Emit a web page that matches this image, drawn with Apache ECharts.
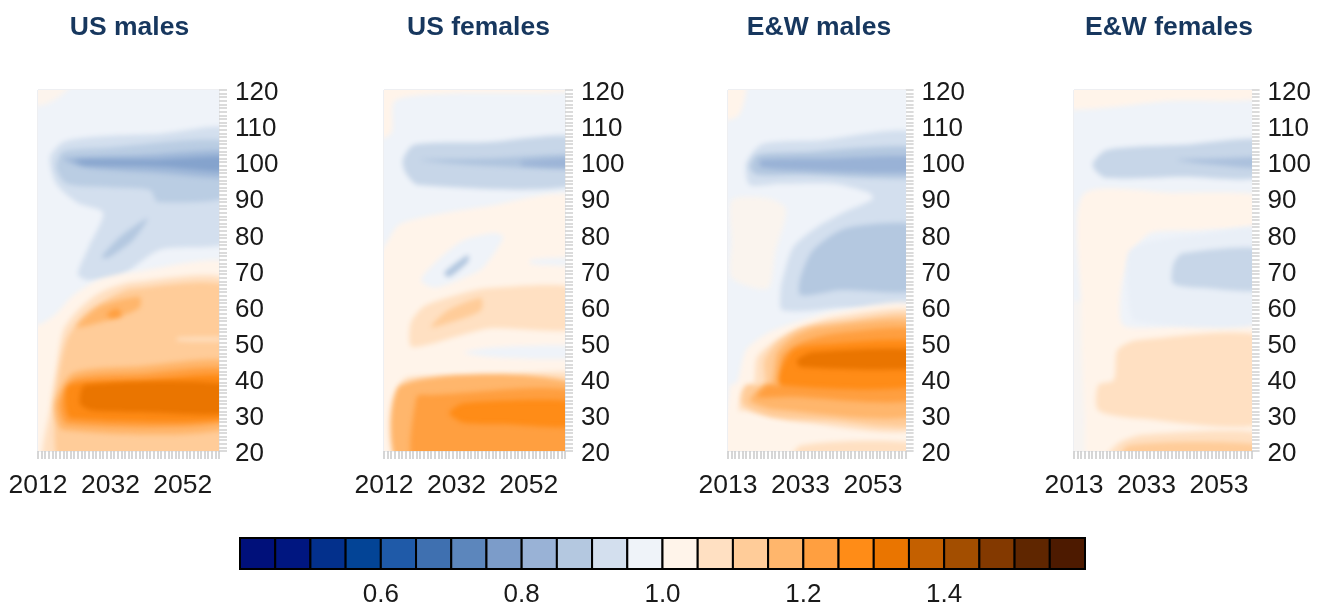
<!DOCTYPE html>
<html><head><meta charset="utf-8">
<script src="https://cdn.jsdelivr.net/npm/echarts@6/dist/echarts.min.js"></script>
<style>html,body{margin:0;padding:0;background:#fff}#c{width:1323px;height:608px}</style>
</head><body><div id="c"></div>
<script>
// Colour scale: legend break values and the colour of each bin
const legendBreaks = [0.40,0.45,0.50,0.55,0.60,0.65,0.70,0.75,0.80,0.85,0.90,0.95,1.00,1.05,1.10,1.15,1.20,1.25,1.30,1.35,1.40,1.45,1.50,1.55,1.60];
const legendColors = ['#00107a','#001680','#03308c','#034496','#1f5aa8','#3f70b0','#5c86bc','#7c9cc9','#99b2d6','#b4c8e0','#d3dfee','#eff3f9','#fff4ea','#ffe0c2','#ffcc99','#ffb66c','#ff9f40','#ff8c17','#ea7500','#c46000','#a34e00','#833900','#5f2600','#4d1a00'];
const legendTicks = [0.6,0.8,1.0,1.2,1.4];
const panelTitles = ['US males','US females','E&W males','E&W females'];
const ageTicks = [20,30,40,50,60,70,80,90,100,110,120];
const usYearLabels = [2012,2032,2052];
const ewYearLabels = [2013,2033,2053];

// Contour regions, painted in order: [ratio value, outline as [year, age] pairs]
const usMales = [
 [0.975,[[2005,130],[2070,130],[2070,10],[2005,10]]],
 [1.015,[[2008,126],[2008,116],[2014,116],[2019,119],[2024,126]]],
 [0.925,[[2015.3,101.4],[2019,105.6],[2027,107],[2045,107.8],[2066,108.6],[2066,78.5],[2045.6,75.7],[2034,68],[2025.5,67.4],[2023,69],[2026,76.5],[2030,86],[2023,88.7],[2017,94]]],
 [0.885,[[2017,98.7],[2019,103],[2030,104],[2066,105.5],[2066,91],[2045,89],[2043,92.3],[2032.7,93],[2020,94]]],
 [0.875,[[2029.6,73.7],[2034.6,79.3],[2042.3,84.5],[2038.2,78.4],[2031.3,73.5]]],
 [0.84,[[2019,101],[2040,102],[2066,103],[2066,96],[2045,97],[2025,98.5]]],
 [0.79,[[2022,100.5],[2045,100.7],[2066,101.5],[2066,97.5],[2045,98.8],[2025,99.3]]],
 [1.025,[[2008,15],[2008,55],[2012.5,55],[2017,58],[2021.6,63],[2029,67.5],[2038,69.5],[2066,71],[2066,15]]],
 [1.075,[[2014.5,15],[2015.5,33],[2017,42.4],[2019,53.5],[2023,59],[2029,63.8],[2038,66.8],[2066,66.5],[2066,15]]],
 [1.125,[[2019,15],[2016.5,30],[2017.5,40],[2020,51],[2025,58],[2031,62],[2038,65],[2066,64.5],[2066,15]]],
 [1.075,[[2050.5,51.4],[2066,51.4],[2066,50.5],[2050.5,50.5]]],
 [1.175,[[2022.7,54.3],[2029,60],[2040,62.7],[2040,59.6],[2032,56.4]]],
 [1.225,[[2031,58],[2034,59.5],[2035,57.5],[2032,56.8]]],
 [1.175,[[2019,25.8],[2016.7,33],[2021.6,41.6],[2040,43.5],[2066,44.4],[2066,26.7]]],
 [1.225,[[2020,27.5],[2018,33],[2022,40],[2040,41.5],[2066,42.4],[2066,28.6]]],
 [1.28,[[2021,29],[2019.5,33],[2020.5,38.3],[2040,39.5],[2066,40.5],[2066,29.4]]],
 [1.325,[[2023.6,33],[2025,38.3],[2066,38.3],[2066,30.8],[2040,30.8],[2027,31.2]]]
];
const usFemales = [
 [0.975,[[2005,130],[2070,130],[2070,10],[2005,10]]],
 [1.025,[[2008,126],[2008,106],[2014,108],[2015,117],[2030,119],[2066,120],[2066,126]]],
 [1.025,[[2008,15],[2008,72],[2012,76.5],[2016.7,83],[2039.6,87.6],[2066,89.5],[2066,15]]],
 [0.975,[[2022.2,67.4],[2027.7,73.7],[2034,78.4],[2042.3,80.4],[2045,79.3],[2039.6,71],[2036,68.8],[2026.3,65.2]]],
 [0.87,[[2028.6,69.3],[2035.2,74.3],[2035.2,72.4],[2030,68.2]]],
 [0.975,[[2052.5,73],[2066,73.5],[2066,71.5],[2052.5,71.8]]],
 [0.905,[[2017.2,100.6],[2020.3,104.8],[2040,105.5],[2066,106.7],[2066,93.7],[2021.4,93.7],[2018,97]]],
 [0.865,[[2022,100.6],[2040,101],[2066,102],[2066,98.4],[2039.6,99]]],
 [0.83,[[2050,100.2],[2066,101],[2066,98.6],[2050,99.2]]],
 [1.075,[[2019.4,49],[2019.4,55.5],[2023,60],[2030.5,62.7],[2039.6,65],[2066,65],[2066,54],[2041.5,54],[2033,52],[2024,49.4]]],
 [1.125,[[2025,54.3],[2029.7,59],[2038.8,62.4],[2038.8,59],[2032.4,56.3]]],
 [0.975,[[2034,47.3],[2042,48.7],[2066,49],[2066,45.7],[2042,46]]],
 [1.075,[[2016,38],[2018.6,40.5],[2040,41],[2066,41.6],[2066,36],[2016,36]]],
 [1.175,[[2016.7,15],[2016.7,38.3],[2066,38.3],[2066,15]]],
 [1.225,[[2021,15],[2021,35],[2025,35.5],[2066,36],[2066,15]]],
 [1.275,[[2030,30.5],[2034,33.3],[2066,33.5],[2066,27],[2045,27.5],[2034,27.8]]]
];
const ewMales = [
 [0.975,[[2005,130],[2070,130],[2070,10],[2005,10]]],
 [1.025,[[2008,126],[2008,112],[2016,113],[2018,126]]],
 [1.01,[[2014,89.5],[2024,90],[2029,87],[2026,75],[2024,65],[2014,68],[2014,78]]],
 [0.925,[[2018,99.8],[2022.4,105],[2037.5,106],[2066,107],[2066,61],[2044,59.6],[2028,59],[2027.5,64.6],[2028,67.4],[2031,76.5],[2037.5,82],[2044.7,86],[2053,89.8],[2052,91.5],[2042,94],[2027.3,94],[2019,93.7]]],
 [0.875,[[2033,63.2],[2033,68],[2036.5,75.7],[2045.8,81.8],[2066,82],[2066,65],[2044,64.6]]],
 [0.875,[[2019,98.7],[2021,102],[2033,102.8],[2066,104],[2066,96],[2033,96.5],[2021,96.5]]],
 [0.825,[[2022,100.6],[2040,101],[2066,101.4],[2066,97.3],[2033,97.8],[2022,98.7]]],
 [1.025,[[2013.5,15],[2013.5,38],[2015.5,39],[2018,48],[2024,52.7],[2032,55.7],[2042,58.5],[2066,59.6],[2066,15]]],
 [1.075,[[2016,31],[2017,37],[2020,38],[2021,46],[2026,50.5],[2033,54],[2042,57],[2066,58],[2066,26.7],[2033,28],[2017,31.3]]],
 [1.075,[[2030,15],[2033,21.5],[2066,22],[2066,15]]],
 [1.125,[[2017,33],[2018,38.3],[2023,38.3],[2023,45],[2026.5,50],[2033,54],[2045,56],[2066,56.8],[2066,28],[2040,28.5],[2025,29.5]]],
 [1.175,[[2019,34],[2023,38.3],[2025,38.3],[2026.5,47],[2031,51.6],[2038,54.3],[2066,55],[2066,30.5],[2026,31.5]]],
 [1.225,[[2021,35],[2024,38.3],[2027.5,38.3],[2028,46],[2033,50],[2042,52.5],[2066,53],[2066,34.7],[2030,35]]],
 [1.275,[[2027.5,38.3],[2027.5,42.4],[2031,48],[2038,49.5],[2066,50],[2066,38.3]]],
 [1.325,[[2032,45.2],[2036.5,47.4],[2066,48],[2066,43],[2033,43.3]]]
];
const ewFemales = [
 [0.975,[[2005,130],[2070,130],[2070,10],[2005,10]]],
 [1.025,[[2008,126],[2008,115],[2040,117],[2066,118],[2066,126]]],
 [1.0,[[2008,15],[2008,60],[2018,60],[2018,15]]],
 [1.025,[[2015.5,91],[2040,91.5],[2066,90.5],[2066,83],[2048,81.2],[2034,80.4],[2029,74.8],[2026,65],[2027,54.5],[2066,54],[2066,15],[2018,15],[2016,30],[2015,60]]],
 [0.965,[[2028,62],[2028,75],[2034,78],[2048,80],[2066,81],[2066,56],[2030,56]]],
 [0.905,[[2040.3,66.5],[2040.5,72],[2043,74.8],[2066,75.7],[2066,65],[2048,65.2]]],
 [0.905,[[2018.2,99.8],[2022,103.4],[2043,104.8],[2066,106],[2066,96],[2043,96],[2022,95.6],[2018.8,97.8]]],
 [0.86,[[2041.4,100.6],[2052,101],[2066,101.2],[2066,98.4],[2052.4,99.2]]],
 [1.075,[[2019.7,31.3],[2019.7,38.3],[2024,39.7],[2025,48],[2030.4,50.7],[2066,51.3],[2066,28],[2031,29]]],
 [1.075,[[2020,15],[2025,22],[2032,24.5],[2066,24.7],[2066,15]]],
 [1.125,[[2025,15],[2028,21.5],[2066,21.5],[2066,15]]]
];
const panelBands = [usMales, usFemales, ewMales, ewFemales];

const panelLayout = [
 {left:38,  width:181, titleX:129.5},
 {left:384, width:181, titleX:478.5},
 {left:728, width:177.6, titleX:819},
 {left:1074,width:177.6, titleX:1169}
];
const panelStart = [2012,2012,2013,2013];
const panelLabels = [usYearLabels,usYearLabels,ewYearLabels,ewYearLabels];

function colorOf(v){
  const t = Math.min(1,Math.max(0,(v-0.425)/(1.575-0.425)));
  return echarts.color.lerp(t, legendColors);
}
function rangeList(a,b){const r=[];for(let i=a;i<=b;i++)r.push(i);return r;}

const font = '"Liberation Sans", Arial, sans-serif';
const softOffset = 4000; // the outline is drawn off-canvas so only its blurred shadow lands on the plot
const grids=[],xAxes=[],yAxes=[],series=[],titles=[];
panelTitles.forEach((name,i)=>{
  const L=panelLayout[i];
  titles.push({text:name,left:L.titleX,top:14,padding:0,textAlign:'center',
    textStyle:{fontFamily:font,fontSize:26.5,fontWeight:'bold',color:'#17375e'}});
  grids.push({left:L.left,width:L.width,top:90,height:361,show:true,borderColor:'#dcdfe4',borderWidth:1,backgroundColor:'transparent'});
  xAxes.push({type:'value',gridIndex:i,min:panelStart[i],max:2062,position:'bottom',
    axisLine:{show:false},splitLine:{show:false},
    axisTick:{show:true,length:8,customValues:rangeList(panelStart[i],2062),lineStyle:{color:'#c9c9c9',width:1.5}},
    axisLabel:{show:true,customValues:panelLabels[i],margin:21,formatter:v=>String(v),fontFamily:font,fontSize:26.5,color:'#1a1a1a',hideOverlap:false,showMinLabel:true,showMaxLabel:true}});
  yAxes.push({type:'value',gridIndex:i,min:20,max:120,interval:10,position:'right',
    axisLine:{show:false},splitLine:{show:false},
    axisTick:{show:true,length:8,customValues:rangeList(20,120),lineStyle:{color:'#cfcfcf',width:1.5}},
    axisLabel:{show:true,customValues:ageTicks,margin:16,formatter:v=>'{a|'+v+'}',
      rich:{a:{fontFamily:font,fontSize:26,color:'#1a1a1a',padding:[6,0,0,0]}},
      hideOverlap:false,showMinLabel:true,showMaxLabel:true}});
  const bands=panelBands[i];
  series.push({type:'custom',name,xAxisIndex:i,yAxisIndex:i,clip:true,silent:true,
    encode:{x:0,y:1},
    data:bands.map(b=>[b[1][0][0],b[1][0][1],b[0]]),
    renderItem:(p,api)=>{
      const b=bands[p.dataIndex];
      const c=colorOf(b[0]);
      if(p.dataIndex===0) return {type:'polygon',shape:{points:b[1].map(q=>api.coord(q))},style:{fill:c}};
      return {type:'polygon',x:-softOffset,
        shape:{points:b[1].map(q=>api.coord(q)),smooth:0.25},
        style:{fill:c,shadowBlur:5,shadowColor:c,shadowOffsetX:softOffset}};
    }});
});
// Colour-scale legend
const li=panelTitles.length;
grids.push({left:240,width:845,top:538,height:32});
xAxes.push({type:'value',gridIndex:li,min:0.4,max:1.6,interval:0.2,
  axisLine:{show:false},axisTick:{show:false},splitLine:{show:false},
  axisLabel:{customValues:legendTicks,margin:13,fontFamily:font,fontSize:26,color:'#1a1a1a',formatter:v=>v.toFixed(1)}});
yAxes.push({type:'value',gridIndex:li,min:0,max:1,show:false});
series.push({type:'custom',name:'legend',xAxisIndex:li,yAxisIndex:li,clip:false,silent:true,
  encode:{x:0},
  data:legendColors.map((c,k)=>[legendBreaks[k],legendBreaks[k+1]]),
  renderItem:(p,api)=>{
    const a=api.coord([api.value(0),0]),b=api.coord([api.value(1),1]);
    return {type:'rect',shape:{x:a[0],y:b[1],width:b[0]-a[0],height:a[1]-b[1]},
      style:{fill:legendColors[p.dataIndex],stroke:'#000',lineWidth:2}};
  }});

const chart=echarts.init(document.getElementById('c'),null,{renderer:'canvas'});
chart.setOption({animation:false,backgroundColor:'#fff',title:titles,tooltip:{show:false},grid:grids,xAxis:xAxes,yAxis:yAxes,series});
</script></body></html>
